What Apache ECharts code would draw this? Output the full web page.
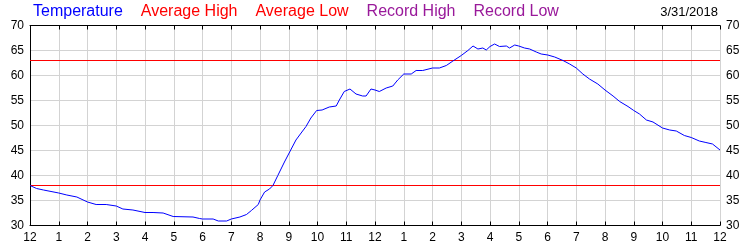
<!DOCTYPE html>
<html>
<head>
<meta charset="utf-8">
<script src="https://cdn.jsdelivr.net/npm/echarts@6/dist/echarts.min.js"></script>
<style>
html,body{margin:0;padding:0;background:#fff;}
#chart{width:750px;height:250px;}
</style>
</head>
<body>
<div id="chart"></div>
<script>
// Hours after midnight
var hours = [0, 0.23, 0.47, 1.0, 1.28, 1.63, 2.0, 2.3, 2.65, 3.0, 3.23, 3.58, 4.0, 4.28, 4.63, 4.98,
  5.67, 5.9, 6.0, 6.37, 6.55, 6.84, 7.0, 7.3, 7.53, 7.7, 7.94, 8.0, 8.16, 8.33, 8.45, 8.62, 8.85,
  9.25, 9.43, 9.6, 9.77, 9.97, 10.16, 10.41, 10.65, 10.76, 10.93, 11.13, 11.34, 11.57, 11.69, 11.86,
  12.0, 12.15, 12.39, 12.62, 12.79, 13.0, 13.26, 13.43, 13.66, 14.0, 14.24, 14.48, 14.71, 15.0,
  15.23, 15.41, 15.58, 15.75, 15.87, 16.0, 16.16, 16.33, 16.57, 16.68, 16.86, 17.0, 17.2, 17.38,
  17.61, 17.78, 18.01, 18.25, 18.54, 18.77, 19.0, 19.23, 19.46, 19.75, 20.0, 20.28, 20.51, 20.8,
  21.0, 21.2, 21.44, 21.67, 22.0, 22.25, 22.48, 22.76, 23.0, 23.28, 23.51, 23.74, 24.0];
// Temperature (°F)
var temps = [38.0, 37.4, 37.1, 36.5, 36.1, 35.7, 34.7, 34.2, 34.2, 33.9, 33.3, 33.1, 32.6, 32.6, 32.5, 31.8,
  31.7, 31.4, 31.3, 31.3, 30.9, 30.9, 31.3, 31.7, 32.2, 33.0, 34.2, 35.1, 36.7, 37.3, 38.0, 40.0, 42.7,
  47.1, 48.5, 49.8, 51.5, 53.0, 53.1, 53.7, 53.9, 55.1, 56.8, 57.3, 56.3, 55.9, 55.9, 57.3,
  57.1, 56.8, 57.5, 57.9, 59.1, 60.3, 60.3, 61.0, 61.0, 61.5, 61.5, 62.0, 62.9, 64.0,
  65.0, 65.9, 65.3, 65.5, 65.1, 65.8, 66.3, 65.8, 65.9, 65.5, 66.1, 65.9, 65.5, 65.3,
  64.7, 64.3, 64.1, 63.7, 63.0, 62.3, 61.5, 60.3, 59.3, 58.3, 57.1, 55.9, 54.8, 53.8,
  53.0, 52.3, 51.1, 50.7, 49.5, 49.1, 48.9, 48.0, 47.6, 46.9, 46.6, 46.3, 45.1];
var averageHigh = 63;
var averageLow = 38;
var seriesNames = ['Temperature', 'Average High', 'Average Low', 'Record High', 'Record Low'];
var seriesColors = ['#0000ff', '#ff0000', '#ff0000', '#99199a', '#99199a'];
var dateLabel = '3/31/2018';

var tempData = hours.map(function (h, i) { return [h, temps[i]]; });

var chart = echarts.init(document.getElementById('chart'), null, {renderer: 'canvas'});
var xTickCommon = {
  type: 'value', min: 0, max: 24, interval: 1,
  axisLine: {show: true, lineStyle: {color: '#000', width: 1}},
  axisTick: {show: true, inside: true, length: 4, lineStyle: {color: '#000'}}
};
chart.setOption({
  animation: false,
  backgroundColor: '#fff',
  textStyle: {fontFamily: 'Liberation Sans, Arial, sans-serif'},
  grid: {left: 30, right: 30, top: 25.5, bottom: 24.5, containLabel: false},
  title: {
    text: dateLabel, right: 32, top: 6, padding: 0,
    textStyle: {fontSize: 13, fontWeight: 'normal', color: '#000', fontFamily: 'Liberation Sans, Arial, sans-serif'}
  },
  legend: {
    left: 28, top: 4, padding: 0, itemGap: 13, itemWidth: 0, itemHeight: 0, icon: 'rect',
    selectedMode: false,
    textStyle: {fontSize: 16, fontFamily: 'Liberation Sans, Arial, sans-serif'},
    data: seriesNames.map(function (n, i) { return {name: n, textStyle: {color: seriesColors[i]}}; })
  },
  xAxis: [
    Object.assign({}, xTickCommon, {
      position: 'bottom',
      splitLine: {show: true, lineStyle: {color: '#d3d3d3', width: 1}},
      axisLabel: {
        show: true, color: '#000', fontSize: 12, margin: 6,
        formatter: function (v) { var h = Math.round(v) % 12; return String(h === 0 ? 12 : h); }
      }
    }),
    Object.assign({}, xTickCommon, {
      position: 'top',
      splitLine: {show: false},
      axisLabel: {show: false}
    })
  ],
  yAxis: [
    {
      type: 'value', min: 30, max: 70, interval: 5, position: 'left',
      axisLine: {show: true, lineStyle: {color: '#000'}},
      axisTick: {show: false},
      splitLine: {show: true, lineStyle: {color: '#d3d3d3', width: 1}},
      axisLabel: {color: '#000', fontSize: 12, margin: 6}
    },
    {
      type: 'value', min: 30, max: 70, interval: 5, position: 'right',
      axisLine: {show: true, lineStyle: {color: '#000'}},
      axisTick: {show: false},
      splitLine: {show: false},
      axisLabel: {color: '#000', fontSize: 12, margin: 6}
    }
  ],
  series: [
    {
      name: seriesNames[0], type: 'line', data: tempData, symbol: 'none', z: 5,
      lineStyle: {color: seriesColors[0], width: 1}, itemStyle: {color: seriesColors[0]}
    },
    {
      name: seriesNames[1], type: 'line', data: [[0, averageHigh], [24, averageHigh]], symbol: 'none', z: 4,
      lineStyle: {color: seriesColors[1], width: 1}, itemStyle: {color: seriesColors[1]}
    },
    {
      name: seriesNames[2], type: 'line', data: [[0, averageLow], [24, averageLow]], symbol: 'none', z: 4,
      lineStyle: {color: seriesColors[2], width: 1}, itemStyle: {color: seriesColors[2]}
    },
    {
      name: seriesNames[3], type: 'line', data: [], symbol: 'none',
      lineStyle: {color: seriesColors[3], width: 1}, itemStyle: {color: seriesColors[3]}
    },
    {
      name: seriesNames[4], type: 'line', data: [], symbol: 'none',
      lineStyle: {color: seriesColors[4], width: 1}, itemStyle: {color: seriesColors[4]}
    }
  ]
});
</script>
</body>
</html>
